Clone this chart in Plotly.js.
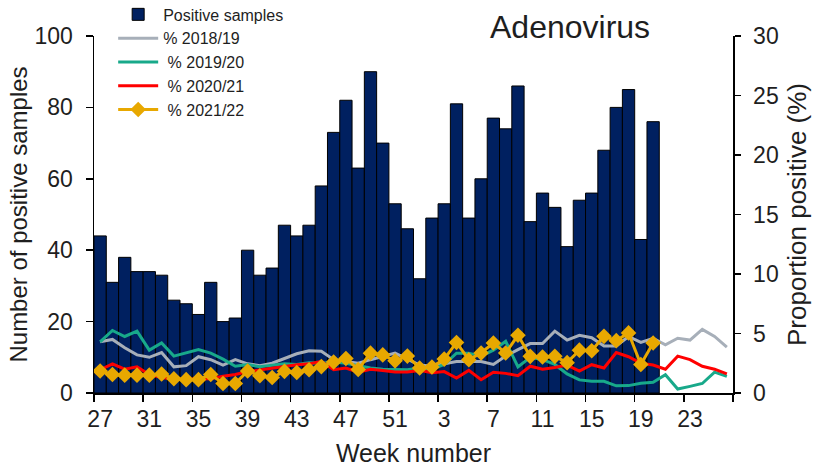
<!DOCTYPE html>
<html>
<head>
<meta charset="utf-8">
<script src="https://cdn.plot.ly/plotly-3.0.1.min.js"></script>
<style>html,body{margin:0;padding:0;background:#fff;}#chart{width:819px;height:470px;}</style>
</head>
<body>
<div id="chart"></div>
<script>
// Week numbers (season week 27 -> week 26)
var weeks = ["27","28","29","30","31","32","33","34","35","36","37","38","39","40","41","42","43","44","45","46","47","48","49","50","51","52",
             "1","2","3","4","5","6","7","8","9","10","11","12","13","14","15","16","17","18","19","20","21","22","23","24","25","26"];

// Number of positive samples 2021/22 (weeks 27..20)
var positiveSamples = [44,31,38,34,34,33,26,25,22,31,20,21,40,33,35,47,44,47,58,73,82,63,90,70,53,46,
                       32,49,53,81,49,60,77,74,86,48,56,52,41,54,56,68,80,85,43,76];

// Proportion positive (%)
var pct1819 = [4.3,4.5,3.8,3.2,3.0,3.4,2.2,2.3,3.05,2.8,2.35,2.8,2.45,2.3,2.5,2.9,3.3,3.55,3.5,2.8,2.65,2.5,2.8,3.05,3.35,2.85,
               2.35,2.25,2.45,2.65,2.65,2.65,2.4,3.1,3.65,4.15,4.15,5.2,4.45,4.85,4.65,3.95,3.95,4.75,4.25,4.6,4.05,4.6,4.45,5.35,4.75,3.85];
var pct1920 = [4.3,5.25,4.75,5.2,3.6,4.2,3.1,3.35,3.65,3.35,2.85,2.25,2.4,2.2,2.35,2.45,2.4,2.55,2.5,2.6,2.5,2.3,2.1,2.0,2.0,1.95,
               2.1,2.0,2.4,3.35,3.35,3.1,3.6,4.35,2.2,3.0,2.8,2.4,1.6,1.1,0.98,0.98,0.6,0.62,0.82,0.9,1.54,0.33,0.56,0.8,1.75,1.4];
var pct2021 = [1.95,2.45,2.0,2.2,1.55,1.3,1.15,1.15,1.15,1.2,1.4,1.55,1.8,1.96,2.1,2.24,2.38,2.45,2.65,1.96,2.1,1.74,2.0,1.9,1.76,1.76,
               1.9,1.7,1.8,1.25,1.9,1.12,1.75,1.65,1.45,2.25,2.0,2.15,2.35,1.85,2.38,2.1,3.4,3.05,2.5,2.35,2.0,3.1,2.8,2.25,2.0,1.6];
var pct2122 = [1.85,1.55,1.5,1.5,1.5,1.6,1.2,1.12,1.12,1.55,0.8,0.8,1.85,1.45,1.3,1.82,1.72,1.96,2.22,2.6,2.9,1.98,3.35,3.2,2.7,3.1,
               2.1,2.18,2.85,4.25,2.8,3.36,4.2,3.36,4.85,3.08,3.02,3.08,2.55,3.6,3.55,4.76,4.4,5.05,2.4,4.2];

var seriesNames = ["Positive samples", "% 2018/19", "\u00a0% 2019/20", "\u00a0% 2020/21", "\u00a0% 2021/22"];

var regular = "Liberation Sans, Arial, sans-serif";
var txt = "#1e1e1e";

var traces = [
  {type:"bar", name:seriesNames[0], x:weeks.slice(0, positiveSamples.length), y:positiveSamples,
   marker:{color:"#002060", line:{color:"#000000", width:1}}, yaxis:"y"},
  {type:"scatter", mode:"lines", name:seriesNames[1], x:weeks, y:pct1819, yaxis:"y2",
   line:{color:"#a7afb9", width:3}},
  {type:"scatter", mode:"lines", name:seriesNames[2], x:weeks, y:pct1920, yaxis:"y2",
   line:{color:"#18a98a", width:3}},
  {type:"scatter", mode:"lines", name:seriesNames[3], x:weeks, y:pct2021, yaxis:"y2",
   line:{color:"#ff0000", width:3}},
  {type:"scatter", mode:"lines+markers", name:seriesNames[4], x:weeks.slice(0, pct2122.length), y:pct2122, yaxis:"y2",
   line:{color:"#e8a800", width:3}, marker:{symbol:"diamond", size:12, color:"#e8a800"}}
];

var layout = {
  width:819, height:470,
  margin:{l:94, r:86, t:36, b:77, autoexpand:false},
  paper_bgcolor:"#ffffff", plot_bgcolor:"#ffffff",
  showlegend:true,
  bargap:0,
  title:{text:"Adenovirus", font:{family:regular, size:32, color:txt},
         x:0.745, xref:"paper", xanchor:"center", y:0.943, yref:"container", yanchor:"middle"},
  legend:{x:0.03, y:1.108, xanchor:"left", yanchor:"top",
          bgcolor:"rgba(0,0,0,0)", font:{family:regular, size:16, color:txt}, tracegroupgap:0, itemwidth:40},
  xaxis:{type:"category", categoryorder:"array", categoryarray:weeks, range:[-0.5, 51.5],
         tickmode:"linear", tick0:0, dtick:4, tickson:"boundaries", tickangle:0,
         ticks:"outside", ticklen:7, tickwidth:1.5, tickcolor:"#000", ticklabelstandoff:5,
         showline:true, linecolor:"#000", linewidth:1.5, showgrid:false, zeroline:false,
         tickfont:{family:regular, size:23, color:txt},
         title:{text:"Week number", font:{family:regular, size:25, color:txt}, standoff:13}},
  yaxis:{range:[0,100], dtick:20, ticks:"outside", ticklen:7, tickwidth:1.5, tickcolor:"#000",
         showline:true, linecolor:"#000", linewidth:1.5, showgrid:false, zeroline:false,
         tickfont:{family:regular, size:23, color:txt}, ticklabelstandoff:8,
         title:{text:"Number of positive samples", font:{family:regular, size:24, color:txt}, standoff:0}},
  yaxis2:{range:[0,30], dtick:5, overlaying:"y", side:"right", ticks:"outside", ticklen:6, tickwidth:1.5, tickcolor:"#000",
          showline:true, linecolor:"#000", linewidth:1.5, showgrid:false, zeroline:false,
          tickfont:{family:regular, size:23, color:txt}, ticklabelstandoff:8,
          title:{text:"Proportion positive (%)", font:{family:regular, size:26, color:txt}, standoff:10}}
};

Plotly.newPlot("chart", traces, layout, {displayModeBar:false, staticPlot:true});
</script>
</body>
</html>
